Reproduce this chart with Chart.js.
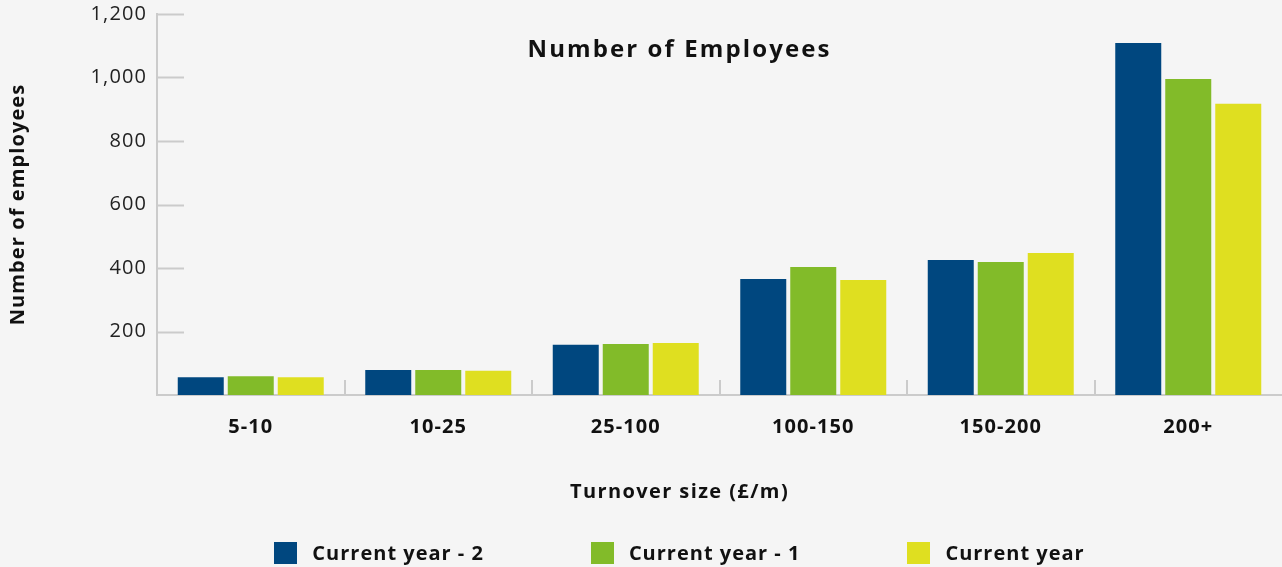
<!DOCTYPE html>
<html>
<head>
<meta charset="utf-8">
<title>Number of Employees</title>
<script src="https://cdn.jsdelivr.net/npm/chart.js@4.4.1/dist/chart.umd.min.js"></script>
<style>
  html, body { margin: 0; padding: 0; background: #f5f5f5; }
  canvas { display: block; }
</style>
</head>
<body>
<canvas id="employeesChart" width="1282" height="567"></canvas>
<script>
// values
const categories = ['5-10', '10-25', '25-100', '100-150', '150-200', '200+'];
const currentYearMinus2 = [56, 79, 158, 365, 425, 1109];
const currentYearMinus1 = [59, 79, 161, 403, 419, 995];
const currentYear = [56, 76, 164, 362, 447, 917];
const yTicks = [200, 400, 600, 800, 1000, 1200];

const chartTitle = 'Number of Employees';
const xTitle = 'Turnover size (£/m)';
const yTitle = 'Number of employees';

const FONT = '"Open Sans", "DejaVu Sans", sans-serif';
const AXIS_GREY = '#cbcbcb';
const CENTER_X = 679.5;

// inner tick marks, centred title, x title and legend
const decorations = {
  id: 'decorations',
  beforeDraw(chart) {
    chart.ctx.letterSpacing = '1.1px';
  },
  beforeDatasetsDraw(chart) {
    const {ctx, chartArea, scales} = chart;
    ctx.save();
    ctx.strokeStyle = AXIS_GREY;
    ctx.lineWidth = 2;
    ctx.beginPath();
    yTicks.forEach(v => {
      let py = Math.round(scales.y.getPixelForValue(v)) + 0.5;
      ctx.moveTo(chartArea.left, py);
      ctx.lineTo(chartArea.left + 27, py);
    });
    for (let i = 1; i < categories.length; i++) {
      let px = Math.round((scales.x.getPixelForValue(i - 1) + scales.x.getPixelForValue(i)) / 2);
      ctx.moveTo(px, chartArea.bottom - 15);
      ctx.lineTo(px, chartArea.bottom);
    }
    ctx.stroke();
    ctx.restore();
  },
  afterDraw(chart) {
    const ctx = chart.ctx;
    ctx.save();
    ctx.fillStyle = '#111';
    ctx.textAlign = 'center';
    ctx.textBaseline = 'alphabetic';

    ctx.font = 'bold 24px ' + FONT;
    ctx.letterSpacing = '2.1px';
    ctx.fillText(chartTitle, CENTER_X, 57);

    ctx.font = 'bold 20px ' + FONT;
    ctx.letterSpacing = '1.4px';
    ctx.fillText(xTitle, CENTER_X, 498);

    // legend
    ctx.letterSpacing = '1px';
    const boxW = 23, boxH = 22, gap = 15, spacing = 107;
    let items = chart.data.datasets.map(d => ({
      label: d.label,
      color: d.backgroundColor,
      w: ctx.measureText(d.label).width
    }));
    let total = items.reduce((s, it) => s + boxW + gap + it.w, 0) + spacing * (items.length - 1);
    let x = CENTER_X - total / 2;
    ctx.textAlign = 'left';
    items.forEach(it => {
      ctx.fillStyle = it.color;
      ctx.fillRect(Math.round(x), 542, boxW, boxH);
      ctx.fillStyle = '#111';
      ctx.fillText(it.label, x + boxW + gap, 560);
      x += boxW + gap + it.w + spacing;
    });
    ctx.restore();
  }
};

let ctx = document.getElementById('employeesChart').getContext('2d');

let employeesChart = new Chart(ctx, {
  type: 'bar',
  data: {
    labels: categories,
    datasets: [
      {label: 'Current year - 2', data: currentYearMinus2, backgroundColor: '#00477f'},
      {label: 'Current year - 1', data: currentYearMinus1, backgroundColor: '#82bb29'},
      {label: 'Current year', data: currentYear, backgroundColor: '#dfdf20'}
    ]
  },
  options: {
    responsive: false,
    animation: false,
    devicePixelRatio: 1,
    layout: {padding: {top: 14, right: 0, bottom: 0, left: 0}},
    datasets: {
      bar: {categoryPercentage: 0.8, barPercentage: 0.92}
    },
    plugins: {
      legend: {display: false},
      title: {display: false},
      tooltip: {enabled: false}
    },
    scales: {
      x: {
        offset: true,
        grid: {display: false, drawTicks: false},
        border: {display: true, color: AXIS_GREY, width: 2},
        ticks: {
          padding: 20,
          color: '#111',
          font: {family: FONT, size: 20, weight: 'bold'}
        },
        afterFit(scale) {
          scale.height = 172;
          scale.paddingLeft = 0;
          scale.paddingRight = 0;
        }
      },
      y: {
        min: 0,
        max: 1200,
        grid: {display: false, drawTicks: false},
        border: {display: true, color: AXIS_GREY, width: 2},
        ticks: {
          stepSize: 200,
          padding: 10,
          color: '#222',
          font: {family: FONT, size: 20},
          callback: v => v === 0 ? '' : v.toLocaleString('en-US')
        },
        title: {
          display: true,
          text: yTitle,
          color: '#111',
          padding: {top: 6, bottom: 0},
          font: {family: FONT, size: 20, weight: 'bold'}
        },
        afterFit(scale) {
          scale.width = 157;
          scale.paddingTop = 0;
          scale.paddingBottom = 0;
        }
      }
    }
  },
  plugins: [decorations]
});
</script>
</body>
</html>
